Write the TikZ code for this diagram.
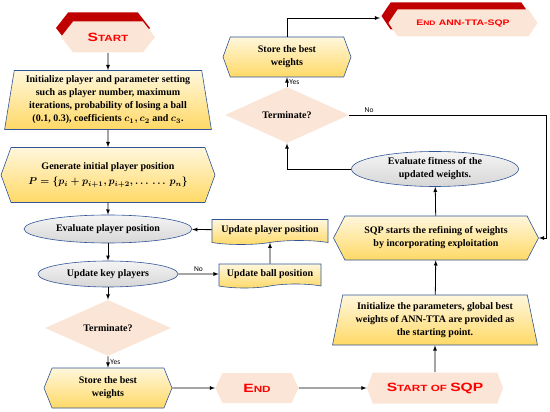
\documentclass[tikz,border=0pt]{standalone}
\usepackage{fontspec}
\setmainfont{Liberation Serif}
\newfontfamily\tagfont{Carlito}
\newfontfamily\capfont[FakeStretch=1.3]{Liberation Sans}
\usetikzlibrary{shapes.geometric,shapes.symbols,shadows}
\definecolor{pinkfill}{HTML}{FBE5D6}
\definecolor{tabred}{HTML}{C00000}
\definecolor{boxblue}{HTML}{2F5597}
\definecolor{ylwtop}{HTML}{FFF7DD}
\definecolor{ylwbot}{HTML}{FFD966}
\definecolor{termred}{HTML}{FF0000}
\newcommand{\capbig}[1]{{\fontsize{12}{12}\selectfont #1}}
\newcommand{\capmid}[1]{{\fontsize{8}{8}\selectfont #1}}
\tikzset{
  txt/.style={font=\bfseries\boldmath\fontsize{10}{13}\selectfont, align=center, inner sep=0pt},
  box/.style={txt, draw=boxblue, line width=0.6pt, top color=ylwtop, bottom color=ylwbot},
  hexbox/.style={box, signal, signal to=west and east, signal pointer angle=136},
  trapbox/.style={box, trapezium, trapezium stretches=true, trapezium angle=#1},
  docbox/.style={box, tape, tape bend top=none, tape bend height=4pt},
  oval/.style={txt, ellipse, draw=boxblue, line width=0.6pt, top color=gray!8, bottom color=gray!32},
  decision/.style={txt, diamond, fill=pinkfill},
  terminal/.style={signal, signal to=west and east, signal pointer angle=#1, fill=pinkfill,
    text=termred, font=\capfont\bfseries\fontsize{9}{9}\selectfont, inner sep=0pt},
  tabbed/.style={general shadow={fill=tabred, shadow xshift=#1}},
  tag/.style={font=\tagfont\fontsize{7.5}{8}\selectfont, inner sep=2pt}
}
\begin{document}
\begin{tikzpicture}[x=1pt, y=-1pt, >=latex, line width=0.8pt]
  \useasboundingbox (0,0) rectangle (550,412);
  \node[terminal=104, tabbed={-5pt, shadow yshift=9pt}, minimum width=94, minimum height=31] (start) at (108,37) {\capbig{S}TART};
  \node[trapbox=80, minimum width=207, minimum height=59] (init) at (108,100)
    {Initialize player and parameter setting\\ such as player number, maximum\\ iterations, probability of losing a ball\\ (0.1, 0.3), coefficients $c_1, c_2$ and $c_3$.};
  \node[hexbox, signal pointer angle=140, minimum width=214, minimum height=55] (gen) at (108,175)
    {Generate initial player position\\[2pt] $P=\{p_i+p_{i+1},p_{i+2},\ldots\,\ldots\,p_n\}$};
  \node[oval, minimum width=168, minimum height=28] (evalpos) at (108,229) {Evaluate player position};
  \node[oval, minimum width=140, minimum height=26] (updkey) at (108,274) {Update key players};
  \node[docbox, minimum width=102, minimum height=24] (updball) at (270,274) {Update ball position};
  \node[docbox, minimum width=116, minimum height=25] (updplayer) at (270,230) {Update player position};
  \node[decision, minimum width=126, minimum height=40] (termL) at (108,328) {Terminate?};
  \node[hexbox, minimum width=128, minimum height=40] (storeL) at (108,388) {Store the best\\ weights};
  \node[terminal=130, minimum width=83, minimum height=30] (endL) at (257,388) {\capbig{E}ND};
  \node[terminal=140, minimum width=136, minimum height=31] (startSQP) at (435,388) {\capbig{S}TART OF \capbig{SQP}};
  \node[trapbox=76, minimum width=205, minimum height=50] (initR) at (435,320)
    {Initialize the parameters, global best\\ weights of ANN-TTA are provided as\\ the starting point.};
  \node[hexbox, signal pointer angle=125, minimum width=205, minimum height=44] (sqp) at (436,238)
    {SQP starts the refining of weights\\ by incorporating exploitation};
  \node[oval, minimum width=167, minimum height=35] (evalfit) at (435,169) {Evaluate fitness of the\\ updated weights.};
  \node[decision, minimum width=124, minimum height=40] (termR) at (287,115) {Terminate?};
  \node[hexbox, signal pointer angle=140, minimum width=128, minimum height=40] (storeR) at (287,57) {Store the best\\ weights};
  \node[terminal=112, tabbed={-7pt, shadow yshift=7pt}, minimum width=149, minimum height=27] (endR) at (463,23)
    {\capmid{E}{\fontsize{6.5}{7}\selectfont ND} \capmid{ANN-TTA-SQP}};
  \coordinate (noturn) at (546,115);
  \draw[->] (start) -- (init);
  \draw[->] (init) -- (gen);
  \draw[->] (gen) -- (evalpos);
  \draw[->] (evalpos) -- (updkey);
  \draw[->] (updkey) -- node[tag, above] {No} (updball);
  \draw[->] (updball) -- (updplayer);
  \draw[->] (updplayer) -- (evalpos);
  \draw[->] (updkey) -- (termL);
  \draw[->] (termL) -- node[tag, right] {Yes} (storeL);
  \draw[->] (storeL) -- (endL);
  \draw[->] (endL) -- (startSQP);
  \draw[->] (startSQP) -- (initR);
  \draw[->] (initR) -- (sqp);
  \draw[->] (sqp) -- (evalfit);
  \draw[->] (evalfit) -| (termR);
  \draw[->] (termR) -- node[tag, right] {Yes} (storeR);
  \draw[->] (termR.east) -- node[tag, above, pos=0.1] {No} (noturn) |- (sqp.east);
  \draw[->] (storeR) |- ([xshift=-8pt, yshift=5pt]endR.west);
\end{tikzpicture}
\end{document}
